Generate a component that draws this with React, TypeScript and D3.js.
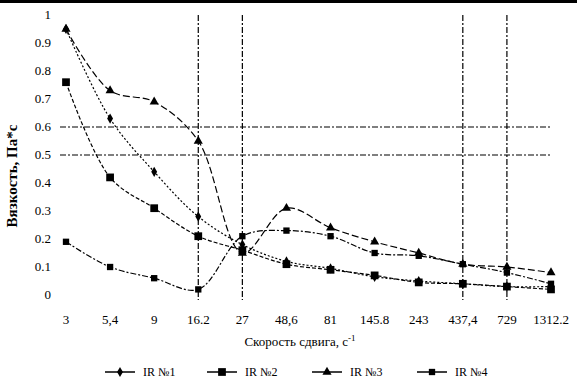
import React, { useRef, useEffect } from "react";
import * as d3 from "d3";

// shear rate categories (s^-1)
const categories = ["3", "5,4", "9", "16.2", "27", "48,6", "81", "145.8", "243", "437,4", "729", "1312.2"];
const yTicks = [0, 0.1, 0.2, 0.3, 0.4, 0.5, 0.6, 0.7, 0.8, 0.9, 1];
const yTickLabels = ["0", "0.1", "0.2", "0.3", "0.4", "0.5", "0.6", "0.7", "0.8", "0.9", "1"];

const ir1 = [0.95, 0.63, 0.44, 0.28, 0.18, 0.12, 0.095, 0.065, 0.05, 0.04, 0.03, 0.03];
const ir2 = [0.76, 0.42, 0.31, 0.21, 0.16, 0.11, 0.09, 0.07, 0.045, 0.04, 0.03, 0.02];
const ir3 = [0.95, 0.73, 0.69, 0.55, 0.15, 0.31, 0.24, 0.19, 0.15, 0.11, 0.1, 0.08];
const ir4 = [0.19, 0.1, 0.06, 0.02, 0.21, 0.23, 0.21, 0.15, 0.14, 0.11, 0.08, 0.04];

const seriesNames = ["IR №1", "IR №2", "IR №3", "IR №4"];
const refH = [0.6, 0.5];
const refV = ["16.2", "27", "437,4", "729"];

const W = 577;
const H = 385;

const App: React.FC = () => {
  const svgRef = useRef<SVGSVGElement>(null);

  useEffect(() => {
    const svg = d3.select(svgRef.current);
    svg.selectAll("*").remove();

    const x = d3.scalePoint<string>().domain(categories).range([66, 551]);
    const y = d3.scaleLinear().domain([0, 1]).range([295, 15]);

    const font = "'Liberation Serif', serif";

    // top bar
    svg.append("rect").attr("x", 0).attr("y", 0).attr("width", W).attr("height", 3).attr("fill", "#000");

    // reference lines
    refH.forEach((v) => {
      svg.append("line")
        .attr("x1", 60).attr("x2", 552)
        .attr("y1", y(v)).attr("y2", y(v))
        .attr("stroke", "#000").attr("stroke-width", 1.2)
        .attr("stroke-dasharray", "6,2,2,2");
    });
    refV.forEach((c) => {
      svg.append("line")
        .attr("x1", x(c)!).attr("x2", x(c)!)
        .attr("y1", 15).attr("y2", 300)
        .attr("stroke", "#000").attr("stroke-width", 1.2)
        .attr("stroke-dasharray", "6,2,2,2");
    });

    // y tick labels
    svg.append("g").selectAll("text").data(yTicks).join("text")
      .attr("x", 51).attr("y", (d) => y(d) + 4)
      .attr("text-anchor", "end")
      .attr("font-family", font).attr("font-size", 13)
      .text((d, i) => yTickLabels[i]);

    // x tick labels
    svg.append("g").selectAll("text").data(categories).join("text")
      .attr("x", (d) => x(d)!).attr("y", 324)
      .attr("text-anchor", "middle")
      .attr("font-family", font).attr("font-size", 13)
      .text((d) => d);

    // axis titles
    svg.append("text")
      .attr("transform", `translate(17,176) rotate(-90)`)
      .attr("text-anchor", "middle")
      .attr("font-family", font).attr("font-size", 15).attr("font-weight", "bold")
      .text("Вязкость, Па*с");
    const xt = svg.append("text")
      .attr("x", 300).attr("y", 346)
      .attr("text-anchor", "middle")
      .attr("font-family", font).attr("font-size", 13);
    xt.append("tspan").text("Скорость сдвига, с");
    xt.append("tspan").attr("dy", -5).attr("font-size", 9).text("-1");

    const series = [ir1, ir2, ir3, ir4];
    const dashes = ["2,2", "4,2", "7,3", "6,2,2,2"];
    const markers = ["diamond", "square", "triangle", "square"];
    const sizes = [30, 60, 36, 40];

    const line = d3.line<number>()
      .x((d, i) => x(categories[i])!)
      .y((d) => y(d))
      .curve(d3.curveCatmullRom.alpha(0.5));

    const symbolOf = (m: string) =>
      m === "diamond" ? d3.symbolDiamond : m === "triangle" ? d3.symbolTriangle : d3.symbolSquare;

    series.forEach((vals, si) => {
      svg.append("path")
        .attr("d", line(vals))
        .attr("fill", "none")
        .attr("stroke", "#000")
        .attr("stroke-width", 1.2)
        .attr("stroke-dasharray", dashes[si]);
      svg.append("g").selectAll("path").data(vals).join("path")
        .attr("transform", (d, i) => `translate(${x(categories[i])},${y(d)})`)
        .attr("d", d3.symbol().type(symbolOf(markers[si])).size(sizes[si])())
        .attr("fill", "#000");
    });

    // legend
    const legendX = [105, 207, 312, 417];
    seriesNames.forEach((name, i) => {
      const g = svg.append("g").attr("transform", `translate(${legendX[i]},376)`);
      g.append("line").attr("x1", 0).attr("x2", 30).attr("y1", -4).attr("y2", -4)
        .attr("stroke", "#000").attr("stroke-width", 1.5);
      g.append("path")
        .attr("transform", "translate(15,-4)")
        .attr("d", d3.symbol().type(symbolOf(markers[i])).size(sizes[i])())
        .attr("fill", "#000");
      g.append("text").attr("x", 38).attr("y", 0)
        .attr("font-family", font).attr("font-size", 12)
        .text(name);
    });
  }, []);

  return (
    <svg
      ref={svgRef}
      width={W}
      height={H}
      viewBox={`0 0 ${W} ${H}`}
      style={{ display: "block", position: "absolute", left: 0, top: 0, background: "#fff" }}
    />
  );
};

export default App;
